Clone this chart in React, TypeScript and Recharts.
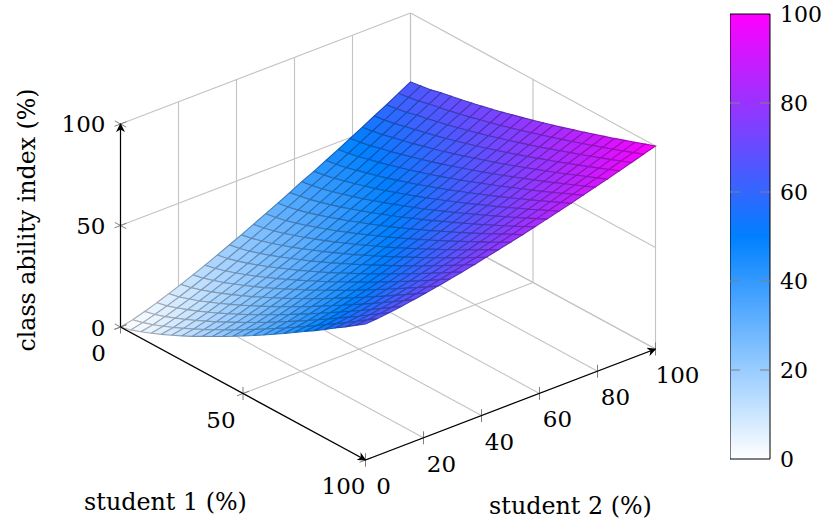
import { BarChart, Bar, YAxis, XAxis, ReferenceLine, Scatter, ScatterChart } from 'recharts'

const FONT = '"DejaVu Serif", serif'

// sample positions along both student axes (%)
const samples = [
  0, 4.17, 8.33, 12.5, 16.67, 20.83, 25, 29.17, 33.33, 37.5, 41.67, 45.83, 50,
  54.17, 58.33, 62.5, 66.67, 70.83, 75, 79.17, 83.33, 87.5, 91.67, 95.83, 100,
]

// class ability index, one row per student 1 sample, one column per student 2 sample
const ability = [
  [0.0, 1.3, 3.1, 5.1, 7.3, 9.6, 12.0, 14.5, 17.2, 19.9, 22.6, 25.5, 28.4, 31.3, 34.3, 37.4, 40.2, 43.3, 46.4, 49.6, 52.8, 56.1, 59.3, 62.7, 66.1],
  [1.3, 2.6, 4.3, 6.3, 8.4, 10.7, 13.1, 15.6, 18.2, 20.9, 23.6, 26.4, 29.3, 32.2, 35.2, 38.2, 41.1, 44.1, 47.2, 50.4, 53.6, 56.8, 60.1, 63.4, 66.8],
  [3.1, 4.3, 6.0, 8.0, 10.1, 12.3, 14.7, 17.1, 19.7, 22.3, 25.0, 27.7, 30.5, 33.4, 36.3, 39.3, 42.2, 45.2, 48.3, 51.4, 54.6, 57.8, 61.0, 64.3, 67.6],
  [5.1, 6.3, 8.0, 9.9, 11.9, 14.1, 16.4, 18.8, 21.3, 23.9, 26.5, 29.2, 32.0, 34.8, 37.7, 40.6, 43.6, 46.6, 49.7, 52.8, 55.9, 59.1, 62.4, 65.6, 68.9],
  [7.3, 8.4, 10.1, 11.9, 14.0, 16.1, 18.4, 20.7, 23.2, 25.7, 28.3, 30.9, 33.6, 36.4, 39.2, 42.1, 45.0, 48.0, 51.0, 54.0, 57.1, 60.3, 63.4, 66.6, 69.9],
  [9.6, 10.7, 12.3, 14.1, 16.1, 18.2, 20.4, 22.7, 25.1, 27.6, 30.1, 32.7, 35.4, 38.1, 40.8, 43.7, 46.5, 49.4, 52.4, 55.4, 58.4, 61.5, 64.6, 67.7, 70.9],
  [12.0, 13.1, 14.7, 16.4, 18.4, 20.4, 22.6, 24.8, 27.2, 29.6, 32.1, 34.6, 37.2, 39.9, 42.6, 45.3, 48.1, 51.0, 53.9, 56.8, 59.8, 62.8, 65.8, 68.9, 72.0],
  [14.5, 15.6, 17.1, 18.8, 20.7, 22.7, 24.8, 27.0, 29.3, 31.7, 34.1, 36.6, 39.1, 41.7, 44.4, 47.1, 49.8, 52.6, 55.4, 58.3, 61.2, 64.1, 67.1, 70.1, 73.2],
  [17.2, 18.2, 19.7, 21.3, 23.2, 25.1, 27.2, 29.3, 31.5, 33.8, 36.2, 38.6, 41.1, 43.7, 46.2, 48.9, 51.6, 54.3, 57.1, 59.9, 62.7, 65.6, 68.5, 71.5, 74.4],
  [19.9, 20.9, 22.3, 23.9, 25.7, 27.6, 29.6, 31.7, 33.8, 36.1, 38.4, 40.8, 43.2, 45.7, 48.2, 50.8, 53.4, 56.0, 58.7, 61.5, 64.3, 67.1, 69.9, 72.8, 75.7],
  [22.6, 23.6, 25.0, 26.5, 28.3, 30.1, 32.1, 34.1, 36.2, 38.4, 40.6, 42.9, 45.3, 47.7, 50.2, 52.7, 55.3, 57.9, 60.5, 63.2, 65.9, 68.6, 71.4, 74.2, 77.1],
  [25.5, 26.4, 27.7, 29.2, 30.9, 32.7, 34.6, 36.6, 38.6, 40.8, 42.9, 45.2, 47.5, 49.8, 52.2, 54.7, 57.2, 59.7, 62.3, 64.9, 67.6, 70.2, 73.0, 75.7, 78.5],
  [28.4, 29.3, 30.5, 32.0, 33.6, 35.4, 37.2, 39.1, 41.1, 43.2, 45.3, 47.5, 49.7, 52.0, 54.4, 56.7, 59.2, 61.6, 64.1, 66.7, 69.3, 71.9, 74.5, 77.2, 79.9],
  [31.3, 32.2, 33.4, 34.8, 36.4, 38.1, 39.9, 41.7, 43.7, 45.7, 47.7, 49.8, 52.0, 54.2, 56.5, 58.8, 61.2, 63.6, 66.0, 68.5, 71.0, 73.6, 76.2, 78.8, 81.4],
  [34.3, 35.2, 36.3, 37.7, 39.2, 40.8, 42.6, 44.4, 46.2, 48.2, 50.2, 52.2, 54.4, 56.5, 58.7, 61.0, 63.3, 65.6, 68.0, 70.4, 72.8, 75.3, 77.8, 80.4, 82.9],
  [37.4, 38.2, 39.3, 40.6, 42.1, 43.7, 45.3, 47.1, 48.9, 50.8, 52.7, 54.7, 56.7, 58.8, 61.0, 63.2, 65.4, 67.7, 70.0, 72.3, 74.7, 77.1, 79.5, 82.0, 84.5],
  [40.5, 41.3, 42.3, 43.6, 45.0, 46.5, 48.1, 49.8, 51.6, 53.4, 55.3, 57.2, 59.2, 61.2, 63.3, 65.4, 67.6, 69.8, 72.0, 74.3, 76.6, 78.9, 81.3, 83.7, 86.1],
  [43.7, 44.4, 45.4, 46.6, 48.0, 49.4, 51.0, 52.6, 54.3, 56.0, 57.9, 59.7, 61.6, 63.6, 65.6, 67.7, 69.8, 71.9, 74.1, 76.3, 78.5, 80.8, 83.1, 85.4, 87.7],
  [46.9, 47.5, 48.5, 49.7, 51.0, 52.4, 53.9, 55.4, 57.1, 58.7, 60.5, 62.3, 64.1, 66.0, 68.0, 70.0, 72.0, 74.1, 76.2, 78.3, 80.4, 82.6, 84.9, 87.1, 89.4],
  [50.1, 50.8, 51.7, 52.8, 54.0, 55.4, 56.8, 58.3, 59.9, 61.5, 63.2, 64.9, 66.7, 68.5, 70.4, 72.3, 74.3, 76.3, 78.3, 80.3, 82.4, 84.6, 86.7, 88.9, 91.1],
  [53.4, 54.0, 54.9, 55.9, 57.1, 58.4, 59.8, 61.2, 62.7, 64.3, 65.9, 67.6, 69.3, 71.0, 72.8, 74.7, 76.6, 78.5, 80.4, 82.4, 84.4, 86.5, 88.6, 90.7, 92.8],
  [56.8, 57.3, 58.1, 59.1, 60.3, 61.5, 62.8, 64.1, 65.6, 67.1, 68.6, 70.2, 71.9, 73.6, 75.3, 77.1, 78.9, 80.8, 82.6, 84.6, 86.5, 88.5, 90.5, 92.5, 94.6],
  [60.1, 60.6, 61.4, 62.4, 63.4, 64.6, 65.8, 67.1, 68.5, 69.9, 71.4, 73.0, 74.5, 76.2, 77.8, 79.5, 81.3, 83.1, 84.9, 86.7, 88.6, 90.5, 92.4, 94.4, 96.4],
  [63.6, 64.0, 64.7, 65.6, 66.6, 67.7, 68.9, 70.1, 71.5, 72.8, 74.2, 75.7, 77.2, 78.8, 80.4, 82.0, 83.7, 85.4, 87.1, 88.9, 90.7, 92.5, 94.4, 96.3, 98.2],
  [67.0, 67.4, 68.1, 68.9, 69.9, 70.9, 72.0, 73.2, 74.4, 75.7, 77.1, 78.5, 79.9, 81.4, 82.9, 84.5, 86.1, 87.7, 89.4, 91.1, 92.8, 94.6, 96.4, 98.2, 100.0],
]

const student1Ticks = [0, 50, 100]
const student2Ticks = [0, 20, 40, 60, 80, 100]
const abilityTicks = [0, 50, 100]
const colorbarTicks = [0, 20, 40, 60, 80, 100]
const colorbarInnerTicks = [20, 40, 60, 80]

// 3d axis view -> chart units
const project = (s1: number, s2: number, z: number) => ({
  x: 120.5 + 2.45 * s1 + 2.9 * s2,
  y: 327 + 1.33 * s1 - 1.11 * s2 - 2.03 * z,
})

const mix = (a: number[], b: number[], t: number) => a.map((v, i) => v + (b[i] - v) * t)

const rgb = (c: number[]) => `rgb(${c.map(Math.round).join(',')})`

const colorFor = (z: number) =>
  z < 50
    ? mix([255, 255, 255], [0, 128, 255], z / 50)
    : mix([0, 128, 255], [255, 0, 255], (z - 50) / 50)

const noMark = () => <g />

const path = (key: string, pts: { x: number; y: number }[], stroke: string, width = 1, extra = {}) => (
  <Scatter
    key={key}
    data={pts}
    shape={noMark}
    line={{ stroke, strokeWidth: width, ...extra }}
    isAnimationActive={false}
  />
)

const label = (key: string, pt: { x: number; y: number }, text: string, dx: number, dy: number, anchor = 'middle', size = 23) => (
  <Scatter
    key={key}
    data={[pt]}
    isAnimationActive={false}
    shape={(p: any) => (
      <text x={p.cx + dx} y={p.cy + dy} textAnchor={anchor} dominantBaseline="central" fontSize={size} fontFamily={FONT} fill="#000">
        {text}
      </text>
    )}
  />
)

const tickMark = (key: string, pt: { x: number; y: number }, dirs: number[][]) => (
  <Scatter
    key={key}
    data={[pt]}
    isAnimationActive={false}
    shape={(p: any) => (
      <g stroke="#808080" strokeWidth={1}>
        {dirs.map((d, i) => (
          <line key={i} x1={p.cx - d[0]} y1={p.cy - d[1]} x2={p.cx + d[0]} y2={p.cy + d[1]} />
        ))}
      </g>
    )}
  />
)

const GRID = '#c4c4c4'
const GRID_W = 1.15
const vertical = [0, 6.5]
const alongS1 = [5.7, 3.1]
const alongS2 = [6, -2.3]

const walls = [
  ...abilityTicks.map((z) => path(`w1-${z}`, [project(0, 0, z), project(0, 100, z)], GRID, GRID_W)),
  ...abilityTicks.map((z) => path(`w2-${z}`, [project(0, 100, z), project(100, 100, z)], GRID, GRID_W)),
  ...student2Ticks.map((s) => path(`v1-${s}`, [project(0, s, 0), project(0, s, 100)], GRID, GRID_W)),
  ...student1Ticks.map((s) => path(`v2-${s}`, [project(s, 100, 0), project(s, 100, 100)], GRID, GRID_W)),
  ...student2Ticks.map((s) => path(`f1-${s}`, [project(0, s, 0), project(100, s, 0)], GRID, GRID_W)),
  ...student1Ticks.map((s) => path(`f2-${s}`, [project(s, 0, 0), project(s, 100, 0)], GRID, GRID_W)),
]

// far cells first so near ones paint over them
const cells: any[] = []
for (let i = 0; i < samples.length - 1; i++) {
  for (let j = samples.length - 2; j >= 0; j--) {
    const zs = [ability[i][j], ability[i + 1][j], ability[i + 1][j + 1], ability[i][j + 1]]
    const fill = colorFor((zs[0] + zs[1] + zs[2] + zs[3]) / 4)
    const corners = [
      project(samples[i], samples[j], zs[0]),
      project(samples[i + 1], samples[j], zs[1]),
      project(samples[i + 1], samples[j + 1], zs[2]),
      project(samples[i], samples[j + 1], zs[3]),
      project(samples[i], samples[j], zs[0]),
    ]
    // mesh line is the mapped colour, darkened
    cells.push(path(`c-${i}-${j}`, corners, rgb(fill.map((v) => v * 0.7)), 1.1, { fill: rgb(fill) }))
  }
}

const AXIS_ARROW = { markerEnd: 'url(#arrow)' }

export default function App() {
  return (
    <div style={{ position: 'absolute', left: 0, top: 0, width: 822, height: 524, overflow: 'hidden' }}>
      <div style={{ position: 'absolute', left: 0, top: 0 }}>
        <ScatterChart width={822} height={524} margin={{ top: 0, right: 0, bottom: 0, left: 0 }}>
          <defs>
            <marker id="arrow" viewBox="0 0 10 10" refX="9" refY="5" markerWidth="9" markerHeight="9" orient="auto" markerUnits="userSpaceOnUse">
              <path d="M0 0 L10 5 L0 10 L3 5 Z" fill="#000" />
            </marker>
          </defs>
          <XAxis type="number" dataKey="x" domain={[0, 822]} hide allowDataOverflow />
          <YAxis type="number" dataKey="y" domain={[0, 524]} reversed hide allowDataOverflow />

          {walls}
          {cells}

          {abilityTicks.map((z) => tickMark(`tz-${z}`, project(0, 0, z), [alongS1, alongS2]))}
          {student1Ticks.map((s) => tickMark(`ts1-${s}`, project(s, 0, 0), [vertical, alongS2]))}
          {student2Ticks.map((s) => tickMark(`ts2-${s}`, project(100, s, 0), [vertical]))}

          {path('axis-z', [project(0, 0, 0), project(0, 0, 100)], '#000', 1.2, AXIS_ARROW)}
          {path('axis-s1', [project(0, 0, 0), project(100, 0, 0)], '#000', 1.2, AXIS_ARROW)}
          {path('axis-s2', [project(100, 0, 0), project(100, 100, 0)], '#000', 1.2, AXIS_ARROW)}

          {abilityTicks.map((z) => label(`lz-${z}`, project(0, 0, z), String(z), -15, z === 0 ? 1 : 0, 'end'))}
          {student1Ticks.map((s) => label(`ls1-${s}`, project(s, 0, 0), String(s), -22, 26))}
          {student2Ticks.map((s) => label(`ls2-${s}`, project(100, s, 0), String(s), s === 100 ? 22 : 18, 26))}

          {label('title-s1', project(100, 0, 0), 'student 1 (%)', -200, 42, 'middle', 23.8)}
          {label('title-s2', project(100, 0, 0), 'student 2 (%)', 205, 46, 'middle', 23.8)}
        </ScatterChart>
      </div>

      <div
        style={{ position: 'absolute', left: 27, top: 220, transform: 'translate(-50%,-50%) rotate(-90deg)', fontFamily: FONT, fontSize: 23.7, whiteSpace: 'nowrap' }}
      >
        class ability index (%)
      </div>

      <div style={{ position: 'absolute', left: 730, top: 0 }}>
        <BarChart width={92} height={480} data={[{ name: 'scale', range: [0, 100] }]} margin={{ top: 14, right: 0, bottom: 21, left: 0 }} barCategoryGap={0}>
          <defs>
            <linearGradient id="cbar" x1="0" y1="1" x2="0" y2="0">
              <stop offset="0%" stopColor="#ffffff" />
              <stop offset="50%" stopColor="#0080ff" />
              <stop offset="100%" stopColor="#ff00ff" />
            </linearGradient>
          </defs>
          <XAxis dataKey="name" hide />
          <YAxis
            orientation="right"
            domain={[0, 100]}
            ticks={colorbarTicks}
            width={52}
            axisLine={false}
            tickLine={false}
            tickMargin={4}
            interval={0}
            tick={{ fontSize: 22, fontFamily: FONT, fill: '#000', textAnchor: 'start' }}
          />
          <Bar dataKey="range" fill="url(#cbar)" stroke="#000" strokeWidth={1} isAnimationActive={false} />
          {colorbarInnerTicks.map((t) => (
            <ReferenceLine key={t} y={t} stroke="#808080" strokeDasharray="10 20 10" />
          ))}
        </BarChart>
      </div>
    </div>
  )
}
